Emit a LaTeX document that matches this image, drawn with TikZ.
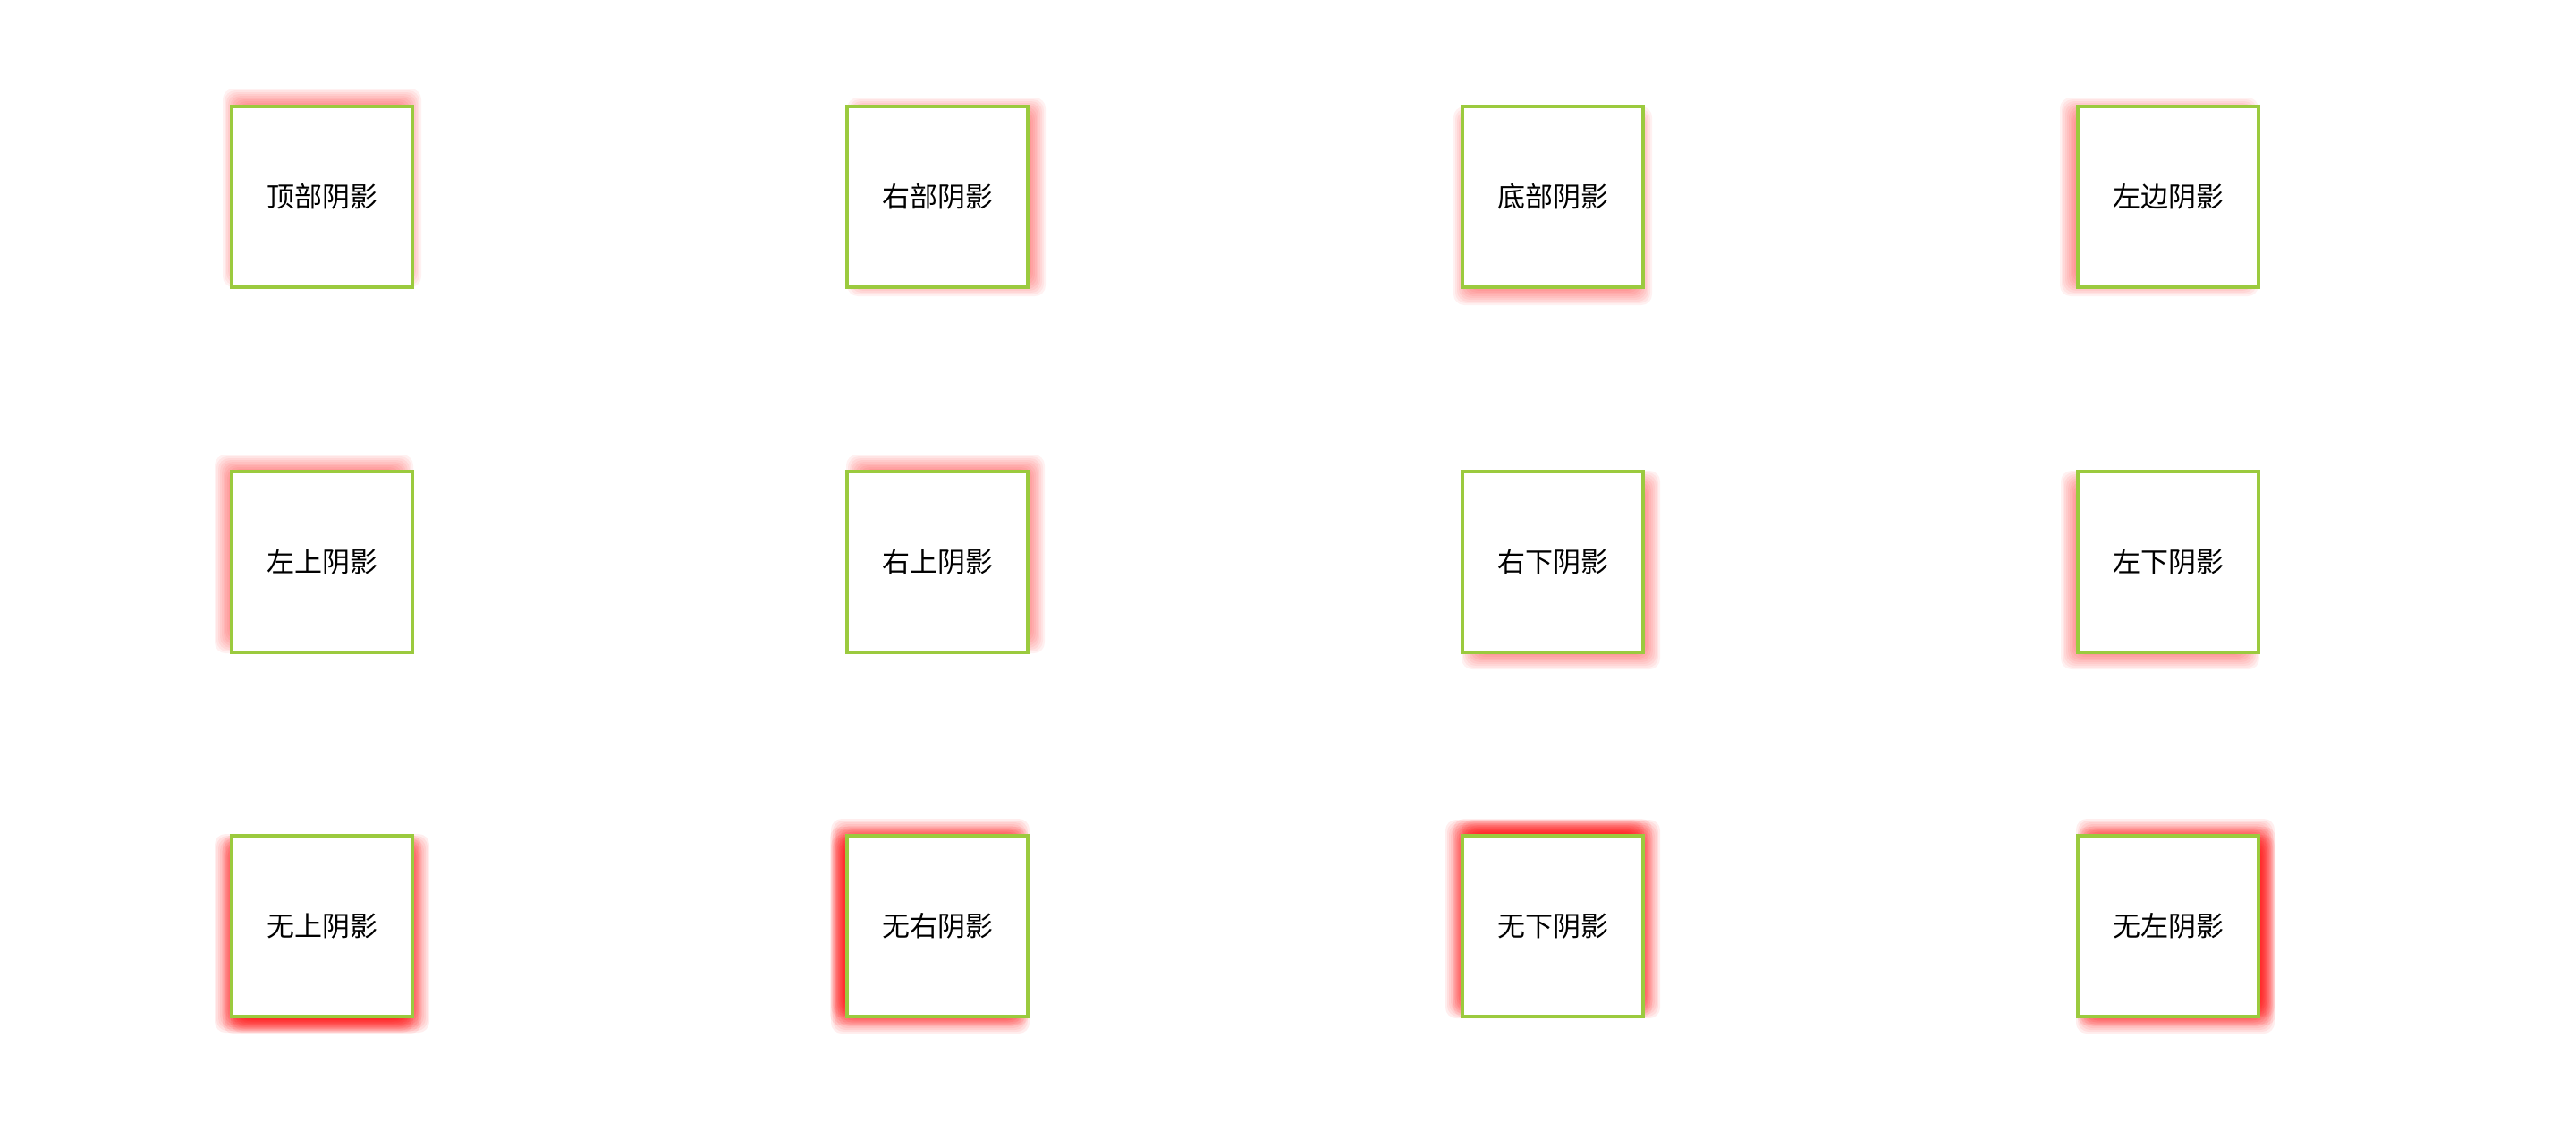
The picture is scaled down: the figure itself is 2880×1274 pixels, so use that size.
\documentclass[tikz,border=0pt]{standalone}
\usepackage{fontspec}
\setmainfont{Noto Sans CJK SC}
\usetikzlibrary{backgrounds}
\definecolor{boxborder}{HTML}{9BCA3E}
\definecolor{glowred}{HTML}{FF0000}

\tikzset{
  shadowbox/.style={rectangle, draw=boxborder, fill=white, line width=2pt,
    minimum size=101pt, inner sep=0pt, font=\fontsize{15.5pt}{18pt}\selectfont},
}

% soft red glow behind a node: node, x offset, y offset, opacity of one layer
\newcommand{\redglow}[4]{%
  \foreach \e in {-14,-12,...,14}
    \fill[glowred, fill opacity=#4, rounded corners=6pt]
      ([shift={({#2+6-(\e)},{#3+6-(\e)})}]#1.south west) rectangle
      ([shift={({#2-6+(\e)},{#3-6+(\e)})}]#1.north east);
}

\begin{document}
\begin{tikzpicture}[x=0.5pt, y=0.5pt]
  \useasboundingbox (0,0) rectangle (2880,-1274);

  % Row 1: one side
  \node[shadowbox] (topglow) at (360,-220) {顶部阴影};
  \node[shadowbox] (rightglow) at (1048,-220) {右部阴影};
  \node[shadowbox] (bottomglow) at (1736,-220) {底部阴影};
  \node[shadowbox] (leftglow) at (2424,-220) {左边阴影};

  % Row 2: two sides
  \node[shadowbox] (tlglow) at (360,-628) {左上阴影};
  \node[shadowbox] (trglow) at (1048,-628) {右上阴影};
  \node[shadowbox] (brglow) at (1736,-628) {右下阴影};
  \node[shadowbox] (blglow) at (2424,-628) {左下阴影};

  % Row 3: three sides
  \node[shadowbox] (notop) at (360,-1035) {无上阴影};
  \node[shadowbox] (noright) at (1048,-1035) {无右阴影};
  \node[shadowbox] (nobottom) at (1736,-1035) {无下阴影};
  \node[shadowbox] (noleft) at (2424,-1035) {无左阴影};

  \begin{scope}[on background layer]
    \redglow{topglow}{0}{10}{0.055}
    \redglow{rightglow}{10}{0}{0.055}
    \redglow{bottomglow}{0}{-10}{0.055}
    \redglow{leftglow}{-10}{0}{0.055}

    \redglow{tlglow}{-9}{9}{0.055}
    \redglow{trglow}{9}{9}{0.055}
    \redglow{brglow}{9}{-9}{0.055}
    \redglow{blglow}{-9}{-9}{0.055}

    \redglow{notop}{-9}{-8}{0.065}
    \redglow{notop}{9}{-8}{0.065}
    \redglow{notop}{0}{-9}{0.065}
    \redglow{noright}{-8}{9}{0.065}
    \redglow{noright}{-9}{0}{0.065}
    \redglow{noright}{-8}{-9}{0.065}
    \redglow{nobottom}{0}{9}{0.065}
    \redglow{nobottom}{-9}{8}{0.065}
    \redglow{nobottom}{9}{8}{0.065}
    \redglow{noleft}{8}{9}{0.065}
    \redglow{noleft}{9}{0}{0.065}
    \redglow{noleft}{8}{-9}{0.065}
  \end{scope}
\end{tikzpicture}
\end{document}
